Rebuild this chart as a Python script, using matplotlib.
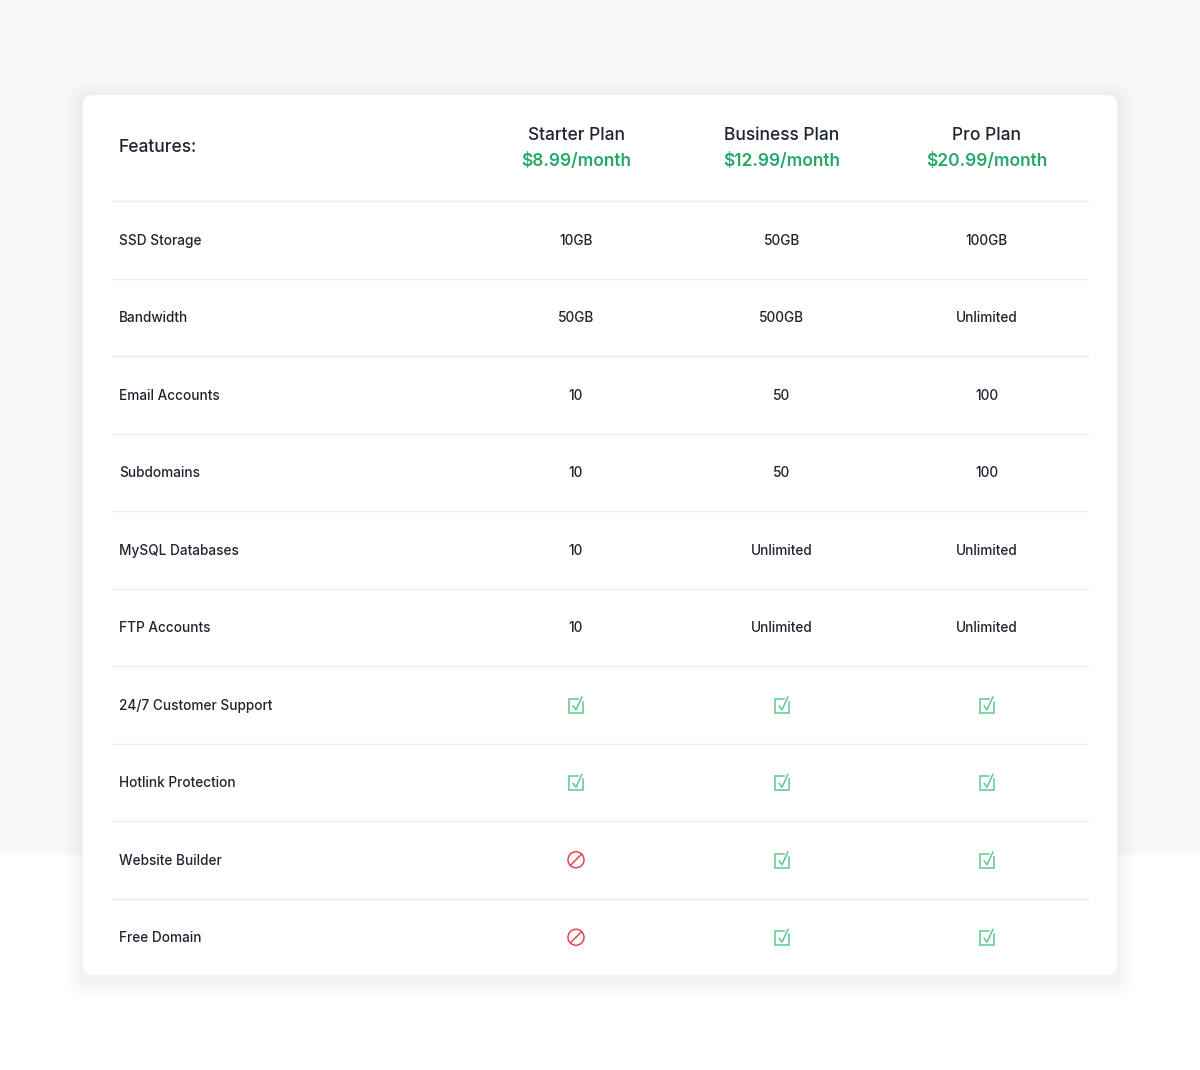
import matplotlib
matplotlib.use("Agg")
import matplotlib.pyplot as plt
from matplotlib.patches import FancyBboxPatch, Rectangle, Circle

plt.rcParams["font.family"] = ["Inter", "DejaVu Sans"]

# -------------------------
# Daten
# -------------------------
plans = ["Starter Plan", "Business Plan", "Pro Plan"]
prices = ["$8.99/month", "$12.99/month", "$20.99/month"]
features = ["SSD Storage", "Bandwidth", "Email Accounts", "Subdomains",
            "MySQL Databases", "FTP Accounts", "24/7 Customer Support",
            "Hotlink Protection", "Website Builder", "Free Domain"]
starter = ["10GB", "50GB", "10", "10", "10", "10", "yes", "yes", "no", "no"]
business = ["50GB", "500GB", "50", "50", "Unlimited", "Unlimited", "yes", "yes", "yes", "yes"]
pro = ["100GB", "Unlimited", "100", "100", "Unlimited", "Unlimited", "yes", "yes", "yes", "yes"]
values = [starter, business, pro]

DARK = "#1e2430"
GREEN = "#27a86b"
CHECK = "#5cc890"
RED = "#e0474c"
LINE = "#eeeff2"

W, H = 1200, 1070
fig = plt.figure(figsize=(12, 10.7), dpi=100)
ax = fig.add_axes([0, 0, 1, 1])
ax.set_xlim(0, W)
ax.set_ylim(H, 0)
ax.axis("off")

# Hintergrund
ax.add_patch(Rectangle((0, 0), W, 855, color="#f7f8fa", zorder=0))
ax.add_patch(Rectangle((0, 855), W, H - 855, color="white", zorder=0))

# Karte mit Schatten
for i in range(6):
    d = 18 - i * 3
    ax.add_patch(FancyBboxPatch((83 - d, 95 - d + 5), 1034 + 2 * d, 880 + 2 * d,
                                boxstyle="round,pad=0,rounding_size=%d" % (10 + d),
                                fc="#1a2440", ec="none", alpha=0.007, zorder=1))
ax.add_patch(FancyBboxPatch((83, 95), 1034, 880, boxstyle="round,pad=0,rounding_size=10",
                            fc="white", ec="none", zorder=2))

col_x = [576, 782, 987]
head_bottom = 201
row_h = 77.5

ax.text(119, 148, "Features:", fontsize=12.5, fontweight="medium", color=DARK,
        va="center", ha="left", zorder=3)
for x, p, pr in zip(col_x, plans, prices):
    ax.text(x, 136, p, fontsize=12.5, fontweight="medium", color=DARK, ha="center", va="center", zorder=3)
    ax.text(x, 161, pr, fontsize=12.5, fontweight="semibold", color=GREEN, ha="center", va="center", zorder=3)


def draw_check(cx, cy):
    s = 14
    ax.add_patch(Rectangle((cx - s / 2, cy - s / 2 + 1), s, s, fill=False, ec=CHECK, lw=1.1, zorder=3))
    ax.plot([cx - 3, cx, cx + 6], [cy + 1, cy + 5, cy - 8], color=CHECK, lw=1.1, zorder=4,
            solid_capstyle="round")
    ax.add_patch(Rectangle((cx + 3, cy - 9), 5, 4, color="white", zorder=3.5))


def draw_no(cx, cy):
    r = 8
    ax.add_patch(Circle((cx, cy), r, fill=False, ec=RED, lw=1.1, zorder=3))
    ax.plot([cx - r * 0.7, cx + r * 0.7], [cy + r * 0.7, cy - r * 0.7], color=RED, lw=1.1, zorder=3)


for i, feat in enumerate(features):
    top = head_bottom + i * row_h
    ax.plot([112, 1088], [top, top], color=LINE, lw=1, zorder=3)
    cy = top + row_h / 2
    ax.text(119, cy + 1, feat, fontsize=9.8, fontweight="medium", color=DARK, ha="left", va="center", zorder=3)
    for x, col in zip(col_x, values):
        v = col[i]
        if v == "yes":
            draw_check(x, cy)
        elif v == "no":
            draw_no(x, cy)
        else:
            ax.text(x, cy + 1, v, fontsize=9.8, fontweight="medium", color=DARK, ha="center", va="center", zorder=3)

fig.savefig("out.png", dpi=100)
